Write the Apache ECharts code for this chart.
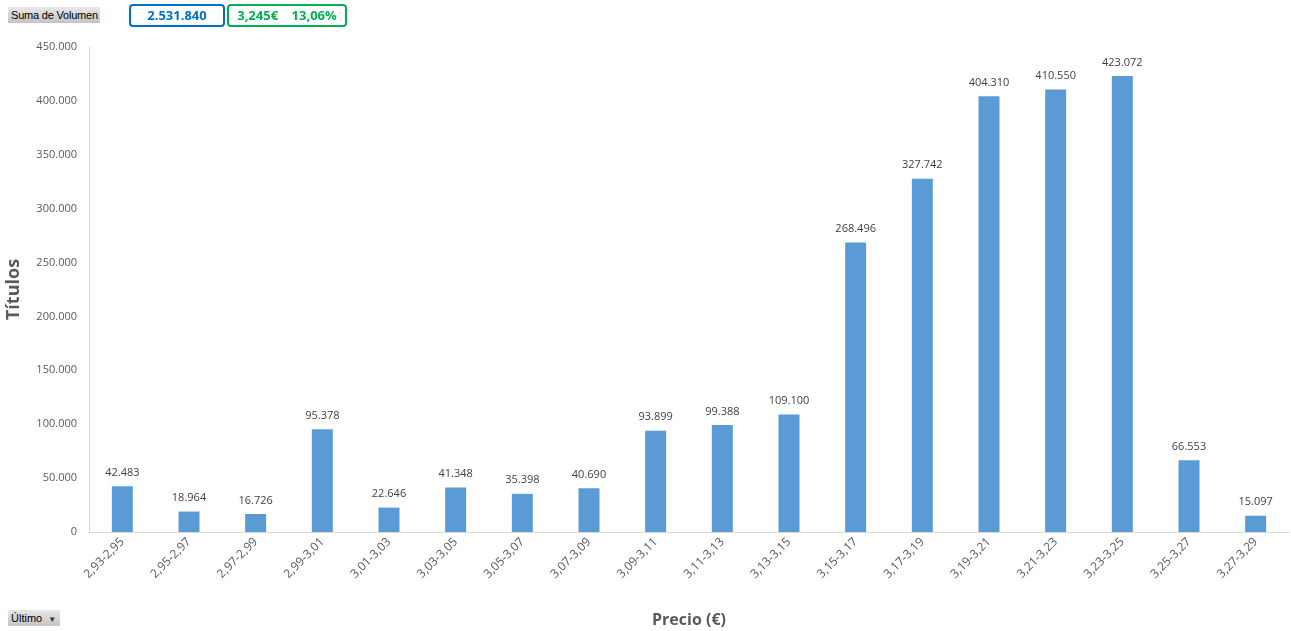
<!DOCTYPE html>
<html><head><meta charset="utf-8">
<script src="https://cdn.jsdelivr.net/npm/echarts@6/dist/echarts.min.js"></script>
<style>
html,body{margin:0;padding:0;background:#fff;}
#c{width:1291px;height:631px;position:absolute;left:0;top:0;}
.btn{position:absolute;font-family:"Liberation Sans",sans-serif;font-size:11px;color:#000;background:linear-gradient(#e8e8e8,#c4c4c4);padding:0 3px;height:16px;line-height:16px;box-sizing:border-box;white-space:nowrap;overflow:hidden;}
.box{position:absolute;font-family:"Open Sans","DejaVu Sans",sans-serif;font-weight:bold;font-size:13px;border:2px solid;border-radius:4px;height:19px;line-height:19px;text-align:center;box-sizing:content-box;}
</style></head>
<body>
<div id="c"></div>
<div class="btn" style="left:8px;top:7px;width:92px;letter-spacing:-0.2px;">Suma de Volumen</div>
<div class="box" style="left:129px;top:4px;width:92px;border-color:#0070c0;color:#0070c0;">2.531.840</div>
<div class="box" style="left:227px;top:4px;width:116px;border-color:#00b050;color:#00b050;">3,245€&nbsp;&nbsp;&nbsp;&nbsp;13,06%</div>
<div class="btn" style="left:8px;top:610px;width:52px;">Último&nbsp;&nbsp;<span style="font-size:8px;color:#333">▼</span></div>
<script>
const categories = ["2,93-2,95","2,95-2,97","2,97-2,99","2,99-3,01","3,01-3,03","3,03-3,05","3,05-3,07","3,07-3,09","3,09-3,11","3,11-3,13","3,13-3,15","3,15-3,17","3,17-3,19","3,19-3,21","3,21-3,23","3,23-3,25","3,25-3,27","3,27-3,29"];
const volumes = [42483,18964,16726,95378,22646,41348,35398,40690,93899,99388,109100,268496,327742,404310,410550,423072,66553,15097];
const yTicks = [0,50000,100000,150000,200000,250000,300000,350000,400000,450000];

function fmt(v){return String(v).replace(/\B(?=(\d{3})+(?!\d))/g,'.');}
const chart = echarts.init(document.getElementById('c'));
chart.setOption({
  animation:false,
  grid:{left:89,right:2,top:47,bottom:99,containLabel:false,outerBoundsMode:'none'},
  xAxis:{
    type:'category',data:categories,
    name:'Precio (€)',nameLocation:'middle',nameGap:80,
    nameTextStyle:{fontFamily:'Open Sans',fontWeight:'bold',fontSize:16,color:'#595959'},
    axisLine:{lineStyle:{color:'#d9d9d9'}},
    axisTick:{show:false},
    axisLabel:{rotate:45,fontFamily:'Open Sans',fontSize:12,color:'#595959',margin:8,interval:0}
  },
  yAxis:{
    type:'value',min:yTicks[0],max:yTicks[yTicks.length-1],interval:50000,
    name:'Títulos',nameLocation:'middle',nameGap:66,nameRotate:90,
    nameTextStyle:{fontFamily:'Open Sans',fontWeight:'bold',fontSize:18,color:'#595959'},
    splitLine:{show:false},
    axisLine:{show:true,lineStyle:{color:'#d9d9d9'}},
    axisTick:{show:false},
    axisLabel:{fontFamily:'Open Sans',fontSize:11,color:'#595959',margin:12,formatter:v=>fmt(v)}
  },
  series:[{
    type:'bar',data:volumes,barWidth:21,
    itemStyle:{color:'#5b9bd5'},
    label:{show:true,position:'top',distance:8,fontFamily:'Open Sans',fontSize:11,color:'#404040',formatter:p=>fmt(p.value)}
  }]
});
</script>
</body></html>
